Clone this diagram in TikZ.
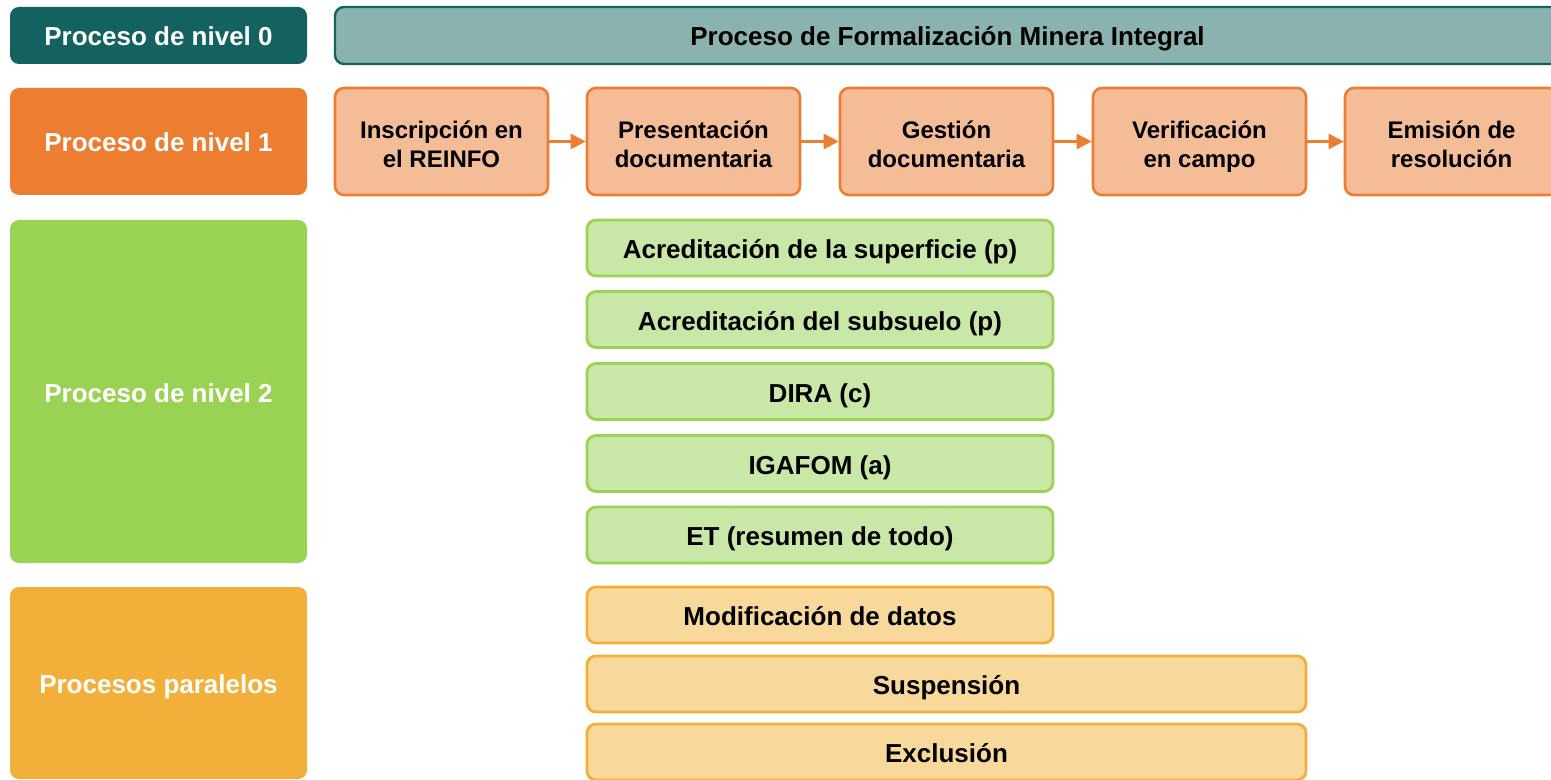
\documentclass[tikz,border=0pt]{standalone}
\usepackage{fontspec}
\setmainfont{Liberation Sans}
\usetikzlibrary{arrows.meta}
\definecolor{tealdark}{HTML}{13625F}
\definecolor{teallight}{HTML}{8AB2AF}
\definecolor{orng}{HTML}{ED7D31}
\definecolor{orngl}{HTML}{F5BD97}
\definecolor{grn}{HTML}{9AD253}
\definecolor{grnl}{HTML}{C9E7A7}
\definecolor{gold}{HTML}{F2B03A}
\definecolor{goldl}{HTML}{F8D89B}
\tikzset{
  base/.style={rounded corners=4.5pt, align=center, inner sep=0pt,
    font=\fontsize{13}{14.5}\selectfont\bfseries},
  oneline/.style={text height=10.5pt, text depth=0pt},
  lab/.style={base, oneline, text=white, minimum width=148.5pt},
  lab0/.style={lab, fill=tealdark},
  lab1/.style={lab, fill=orng},
  lab2/.style={lab, fill=grn},
  lab3/.style={lab, fill=gold},
  top/.style={base, oneline, fill=teallight, draw=tealdark, line width=1.2pt},
  onebox/.style={base, fill=orngl, draw=orng, line width=1.3pt,
    font=\fontsize{12}{14.5}\selectfont\bfseries,
    text height=25.6pt, text depth=0pt,
    minimum width=106.5pt, minimum height=53.5pt},
  twobox/.style={base, oneline, fill=grnl, draw=grn, line width=1.4pt,
    minimum width=233pt, minimum height=28pt},
  parbox/.style={base, oneline, fill=goldl, draw=gold, line width=1.4pt,
    minimum height=28pt},
  flow/.style={draw=orng, line width=1.3pt, -{Triangle[length=7.5pt,width=7.5pt]}}
}
\begin{document}
\begin{tikzpicture}[x=0.5pt,y=-0.5pt]
\clip (0,0) rectangle (1551,780);
\fill[white] (0,0) rectangle (1551,780);
% labels
\node[lab0, minimum height=28.5pt] (l0) at (158.5,35.5) {Proceso de nivel 0};
\node[lab1, minimum height=53.5pt] (l1) at (158.5,141.5) {Proceso de nivel 1};
\node[lab2, minimum height=171.5pt] (l2) at (158.5,391.5) {Proceso de nivel 2};
\node[lab3, minimum height=96pt] (l3) at (158.5,683) {Procesos paralelos};
% level 0
\node[top, minimum width=612.5pt, minimum height=28.5pt] (p0) at (947.5,35.5) {Proceso de Formalizaci\'on Minera Integral};
% level 1
\node[onebox] (a) at (441.5,141.5) {Inscripci\'on en\\el REINFO};
\node[onebox] (b) at (693.5,141.5) {Presentaci\'on\\documentaria};
\node[onebox] (c) at (946.5,141.5) {Gesti\'on\\documentaria};
\node[onebox] (d) at (1199.5,141.5) {Verificaci\'on\\en campo};
\node[onebox] (e) at (1451.5,141.5) {Emisi\'on de\\resoluci\'on};
\draw[flow] (a) -- (b);
\draw[flow] (b) -- (c);
\draw[flow] (c) -- (d);
\draw[flow] (d) -- (e);
% level 2
\node[twobox] (g1) at (820,248) {Acreditaci\'on de la superficie (p)};
\node[twobox] (g2) at (820,319.5) {Acreditaci\'on del subsuelo (p)};
\node[twobox] (g3) at (820,391.5) {DIRA (c)};
\node[twobox] (g4) at (820,463.5) {IGAFOM (a)};
\node[twobox] (g5) at (820,535) {ET (resumen de todo)};
% parallel
\node[parbox, minimum width=233pt] (m1) at (820,615) {Modificaci\'on de datos};
\node[parbox, minimum width=359.5pt] (m2) at (946.5,684) {Suspensi\'on};
\node[parbox, minimum width=359.5pt] (m3) at (946.5,752) {Exclusi\'on};
\end{tikzpicture}
\end{document}
